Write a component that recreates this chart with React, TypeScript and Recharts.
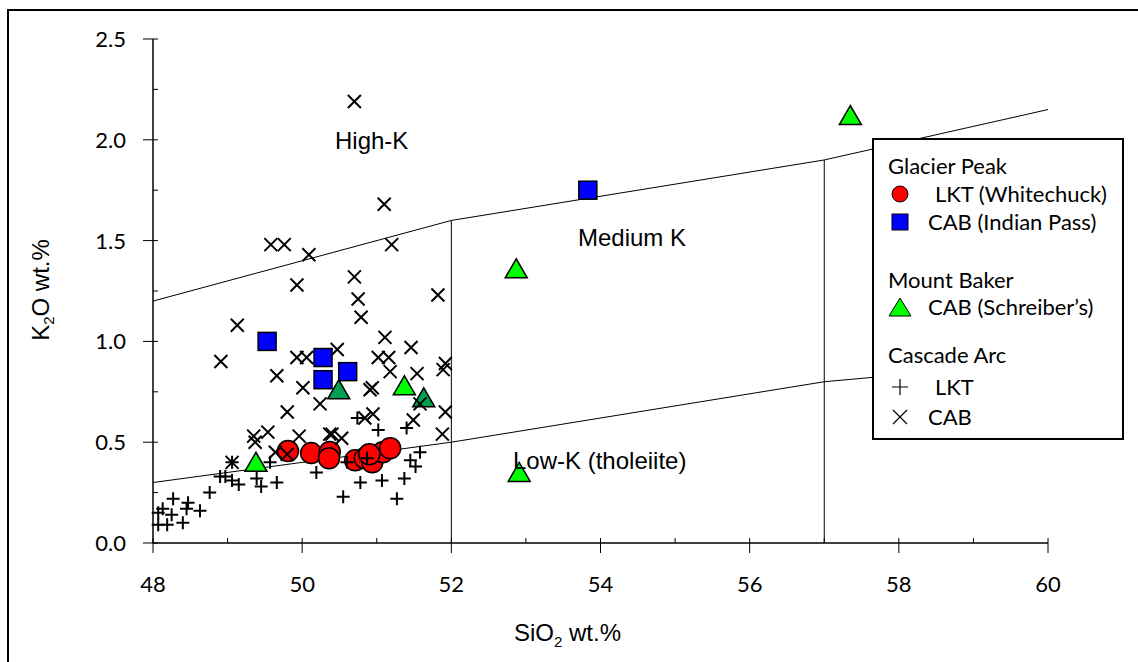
import { ScatterChart, Scatter, XAxis, YAxis, ReferenceLine } from 'recharts';

// axis ticks (every unit / quarter; only majors get labels)
const xTicks = [48, 49, 50, 51, 52, 53, 54, 55, 56, 57, 58, 59, 60];
const yTicks = [0, 0.25, 0.5, 0.75, 1, 1.25, 1.5, 1.75, 2, 2.25, 2.5];

// field boundaries
const highKBoundary = [[48, 1.2], [52, 1.6], [57, 1.9], [60, 2.15]];
const lowKBoundary = [[48, 0.3], [52, 0.5], [57, 0.8], [60, 0.9]];
const dividers = [[52, 1.6], [57, 1.9]];

// Glacier Peak
const lktWhitechuck = [
  [49.81, 0.456], [50.12, 0.446], [50.37, 0.451], [50.36, 0.42],
  [50.71, 0.41], [50.84, 0.42], [50.94, 0.4], [51.08, 0.45], [51.18, 0.47], [50.9, 0.44],
];
const cabIndianPass = [[49.53, 1.0], [50.28, 0.92], [50.28, 0.81], [50.61, 0.85], [53.83, 1.75]];

// Mount Baker
const cabSchreibers = [[49.38, 0.4], [51.37, 0.78], [52.87, 1.36], [52.91, 0.35], [57.35, 2.12]];
const cabSchreibersDark = [[50.49, 0.76], [51.63, 0.72]];

// Cascade Arc
const cascadeLkt = [
  [48.07, 0.09], [48.19, 0.09], [48.07, 0.15], [48.13, 0.17], [48.27, 0.22], [48.25, 0.14],
  [48.4, 0.1], [48.47, 0.2], [48.45, 0.17], [48.63, 0.16], [48.76, 0.25], [48.9, 0.33],
  [48.97, 0.33], [49.06, 0.31], [49.15, 0.29], [49.39, 0.32], [49.45, 0.28], [49.66, 0.3],
  [49.57, 0.4], [49.06, 0.4], [50.19, 0.35], [50.55, 0.23], [50.78, 0.3], [51.07, 0.31],
  [51.27, 0.22], [51.37, 0.32], [51.45, 0.41], [51.52, 0.38], [51.58, 0.45], [50.6, 0.4],
  [50.87, 0.42], [51.02, 0.56], [51.4, 0.57], [50.74, 0.62],
];
const cascadeCab = [
  [50.7, 2.19], [51.1, 1.68], [51.2, 1.48], [50.09, 1.43], [49.58, 1.48], [49.76, 1.48],
  [50.7, 1.32], [49.93, 1.28], [51.82, 1.23], [50.75, 1.21], [50.79, 1.12], [49.13, 1.08],
  [51.11, 1.02], [48.91, 0.9], [49.93, 0.92], [50.06, 0.92], [50.47, 0.96], [51.46, 0.97],
  [51.02, 0.92], [51.16, 0.92], [51.18, 0.85], [51.54, 0.84], [51.92, 0.89], [51.89, 0.86],
  [49.66, 0.83], [50.01, 0.77], [50.94, 0.77], [50.91, 0.76], [50.24, 0.69], [49.8, 0.65],
  [51.58, 0.69], [51.92, 0.65], [51.49, 0.61], [50.84, 0.62], [50.95, 0.64], [51.88, 0.54],
  [49.54, 0.55], [49.35, 0.53], [49.37, 0.5], [49.96, 0.53], [50.37, 0.54], [50.53, 0.52],
  [49.06, 0.4], [49.64, 0.45], [49.8, 0.44], [50.4, 0.54],
];

const pts = (a: number[][]) => a.map(([x, y]) => ({ x, y }));
const segs = (a: number[][]) =>
  a.slice(1).map((p, i) => [{ x: a[i][0], y: a[i][1] }, { x: p[0], y: p[1] }]);

const TICK_FONT = 'Lato, "Noto Sans", sans-serif';
const ARIAL = '"Liberation Sans", Arial, sans-serif';

const XTick = ({ x, y, payload }: any) => {
  const major = payload.value % 2 === 0;
  return (
    <g>
      <line x1={x} x2={x} y1={y - 5} y2={major ? y + 10 : y} stroke="#000" strokeWidth={1} />
      {major && (
        <text x={x} y={y + 49} textAnchor="middle" fontSize={22} fontFamily={TICK_FONT} fill="#000">
          {payload.value}
        </text>
      )}
    </g>
  );
};

const YTick = ({ x, y, payload }: any) => {
  const v = payload.value;
  const major = Math.abs(v * 2 - Math.round(v * 2)) < 1e-6;
  return (
    <g>
      <line x1={major ? x - 10 : x} x2={x + 5} y1={y} y2={y} stroke="#000" strokeWidth={1} />
      {major && (
        <text x={x - 27} y={y + 8} textAnchor="end" fontSize={22} fontFamily={TICK_FONT} fill="#000">
          {v.toFixed(1)}
        </text>
      )}
    </g>
  );
};

const RedCircle = ({ cx, cy }: any) => (
  <circle cx={cx} cy={cy} r={10.5} fill="#ff0000" stroke="#000" strokeWidth={1.5} />
);
const BlueSquare = ({ cx, cy }: any) => (
  <rect x={cx - 9} y={cy - 9} width={18} height={18} fill="#0000ff" stroke="#000" strokeWidth={1.5} />
);
const triangle = (fill: string) => ({ cx, cy }: any) => (
  <polygon
    points={`${cx},${cy - 10} ${cx - 11},${cy + 9} ${cx + 11},${cy + 9}`}
    fill={fill}
    stroke="#000"
    strokeWidth={1.5}
  />
);
const Plus = ({ cx, cy }: any) => (
  <path d={`M${cx - 6.5},${cy}H${cx + 6.5}M${cx},${cy - 6.5}V${cy + 6.5}`} stroke="#000" strokeWidth={2} />
);
const Cross = ({ cx, cy }: any) => (
  <path d={`M${cx - 6.5},${cy - 6.5}L${cx + 6.5},${cy + 6.5}M${cx - 6.5},${cy + 6.5}L${cx + 6.5},${cy - 6.5}`} stroke="#000" strokeWidth={2} />
);

const LegendRow = ({ top, left, text, children }: any) => (
  <div style={{ position: 'absolute', top, left: 0, height: 28, width: '100%' }}>
    <svg width={30} height={28} style={{ position: 'absolute', left: 11, top: 0 }}>
      {children}
    </svg>
    <span style={{ position: 'absolute', left, top: 0, lineHeight: '28px', whiteSpace: 'nowrap' }}>{text}</span>
  </div>
);

const Heading = ({ top, text }: any) => (
  <div style={{ position: 'absolute', top, left: 14, lineHeight: '28px', whiteSpace: 'nowrap' }}>{text}</div>
);

export default function App() {
  return (
    <div style={{ position: 'absolute', left: 0, top: 0, width: 1138, height: 662, background: '#fff', overflow: 'hidden' }}>
      <div style={{ position: 'absolute', left: 7, top: 9, width: 1140, height: 660, borderLeft: '2px solid #000', borderTop: '2px solid #000' }} />
      <ScatterChart width={1138} height={662} margin={{ top: 39, right: 90, bottom: 59, left: 93 }}>
        <XAxis
          type="number"
          dataKey="x"
          domain={[48, 60]}
          ticks={xTicks}
          interval={0}
          height={60}
          tickSize={0}
          tickMargin={0}
          tick={<XTick />}
          axisLine={{ stroke: '#000', strokeWidth: 1.5 }}
        />
        <YAxis
          type="number"
          dataKey="y"
          domain={[0, 2.5]}
          ticks={yTicks}
          interval={0}
          width={60}
          tickSize={0}
          tickMargin={0}
          tick={<YTick />}
          axisLine={{ stroke: '#000', strokeWidth: 1.5 }}
        />
        {segs(highKBoundary).map((s, i) => (
          <ReferenceLine key={`h${i}`} segment={s} stroke="#000" strokeWidth={1} />
        ))}
        {segs(lowKBoundary).map((s, i) => (
          <ReferenceLine key={`l${i}`} segment={s} stroke="#000" strokeWidth={1} />
        ))}
        {dividers.map(([x, top], i) => (
          <ReferenceLine key={`d${i}`} segment={[{ x, y: 0 }, { x, y: top }]} stroke="#000" strokeWidth={1} />
        ))}
        <Scatter data={pts(lktWhitechuck)} shape={<RedCircle />} isAnimationActive={false} />
        <Scatter data={pts(cabIndianPass)} shape={<BlueSquare />} isAnimationActive={false} />
        <Scatter data={pts(cabSchreibersDark)} shape={triangle('#00a050')} isAnimationActive={false} />
        <Scatter data={pts(cabSchreibers)} shape={triangle('#00ff00')} isAnimationActive={false} />
        <Scatter data={pts(cascadeLkt)} shape={<Plus />} isAnimationActive={false} />
        <Scatter data={pts(cascadeCab)} shape={<Cross />} isAnimationActive={false} />
      </ScatterChart>

      <div style={{ position: 'absolute', left: 335, top: 127, fontFamily: ARIAL, fontSize: 24, whiteSpace: 'nowrap' }}>High-K</div>
      <div style={{ position: 'absolute', left: 578, top: 224, fontFamily: ARIAL, fontSize: 24, whiteSpace: 'nowrap' }}>Medium K</div>
      <div style={{ position: 'absolute', left: 513, top: 447, fontFamily: ARIAL, fontSize: 24, whiteSpace: 'nowrap' }}>Low-K (tholeiite)</div>

      <div style={{ position: 'absolute', left: 514, top: 619, fontFamily: ARIAL, fontSize: 24, whiteSpace: 'nowrap' }}>
        SiO<sub style={{ fontSize: 15 }}>2</sub> wt.%
      </div>
      <div
        style={{
          position: 'absolute',
          left: 42,
          top: 290,
          transform: 'translate(-50%, -50%) rotate(-90deg)',
          fontFamily: ARIAL,
          fontSize: 24,
          whiteSpace: 'nowrap',
        }}
      >
        K<sub style={{ fontSize: 15 }}>2</sub>O wt.%
      </div>

      <div
        style={{
          position: 'absolute',
          left: 872,
          top: 138,
          width: 252,
          height: 302,
          border: '2px solid #000',
          background: '#fff',
          boxSizing: 'border-box',
          fontFamily: TICK_FONT,
          fontSize: 22,
          color: '#000',
        }}
      >
        <Heading top={12} text="Glacier Peak" />
        <LegendRow top={40} left={61} text="LKT (Whitechuck)">
          <circle cx={15} cy={14} r={8} fill="#ff0000" stroke="#000" strokeWidth={1} />
        </LegendRow>
        <LegendRow top={68} left={54} text="CAB (Indian Pass)">
          <rect x={7} y={6} width={16} height={16} fill="#0000ff" stroke="#000" strokeWidth={1} />
        </LegendRow>
        <Heading top={126} text="Mount Baker" />
        <LegendRow top={153} left={54} text="CAB (Schreiber’s)">
          <polygon points="15,5 4,23 26,23" fill="#00ff00" stroke="#000" strokeWidth={1} />
        </LegendRow>
        <Heading top={201} text="Cascade Arc" />
        <LegendRow top={233} left={61} text="LKT">
          <path d="M7,14H23M15,6V22" stroke="#000" strokeWidth={1.2} />
        </LegendRow>
        <LegendRow top={263} left={54} text="CAB">
          <path d="M8,7L22,21M8,21L22,7" stroke="#000" strokeWidth={1.2} />
        </LegendRow>
      </div>
    </div>
  );
}
